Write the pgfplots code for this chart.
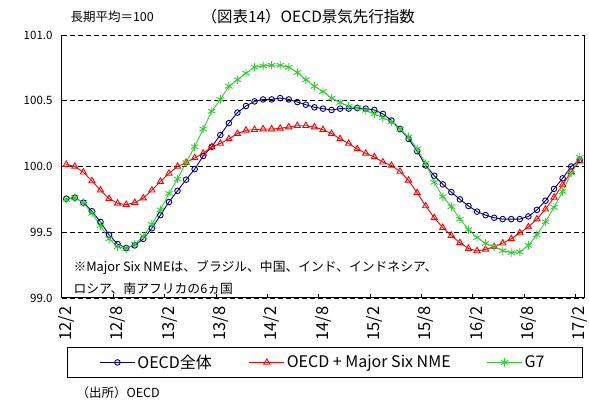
\documentclass[border=0pt]{standalone}
\usepackage{fontspec}
\setmainfont{Noto Sans CJK JP}
\usepackage{pgfplots}
\usepackage{pgfplotstable}
\pgfplotsset{compat=1.18}
\definecolor{cblue}{RGB}{0,0,128}
\definecolor{cred}{RGB}{255,0,0}
\definecolor{cgreen}{RGB}{51,204,51}

\pgfplotstableread{
i blue red green
0 99.755 100.015 99.75
1 99.763 100.00 99.763
2 99.725 99.957 99.725
3 99.66 99.89 99.644
4 99.578 99.82 99.55
5 99.48 99.755 99.45
6 99.41 99.72 99.39
7 99.38 99.71 99.375
8 99.40 99.725 99.41
9 99.45 99.76 99.47
10 99.53 99.82 99.56
11 99.63 99.885 99.67
12 99.73 99.947 99.795
13 99.815 100.0 99.905
14 99.90 100.03 100.03
15 99.98 100.066 100.15
16 100.08 100.10 100.285
17 100.15 100.15 100.42
18 100.24 100.175 100.51
19 100.33 100.21 100.61
20 100.41 100.25 100.66
21 100.46 100.275 100.71
22 100.495 100.28 100.755
23 100.51 100.285 100.765
24 100.51 100.285 100.77
25 100.52 100.29 100.77
26 100.51 100.30 100.755
27 100.49 100.31 100.715
28 100.47 100.31 100.66
29 100.45 100.30 100.61
30 100.44 100.28 100.57
31 100.43 100.25 100.52
32 100.44 100.21 100.487
33 100.44 100.175 100.457
34 100.445 100.134 100.445
35 100.44 100.10 100.427
36 100.43 100.073 100.40
37 100.40 100.033 100.37
38 100.35 100.008 100.34
39 100.285 99.962 100.283
40 100.21 99.895 100.225
41 100.116 99.80 100.134
42 100.008 99.70 100.023
43 99.93 99.61 99.88
44 99.864 99.535 99.77
45 99.805 99.475 99.695
46 99.75 99.42 99.60
47 99.70 99.376 99.52
48 99.657 99.358 99.46
49 99.63 99.37 99.415
50 99.61 99.39 99.39
51 99.60 99.417 99.36
52 99.60 99.45 99.345
53 99.60 99.495 99.35
54 99.62 99.54 99.40
55 99.67 99.60 99.48
56 99.74 99.675 99.58
57 99.83 99.765 99.69
58 99.91 99.86 99.81
59 100.0 99.96 99.95
60 100.05 100.04 100.07
}\data

\begin{document}
\begin{tikzpicture}[x=1pt,y=1pt]
\useasboundingbox (-62,-106) rectangle (527,298);
\begin{axis}[
  at={(0,0)}, anchor=south west,
  scale only axis, width=522pt, height=263pt,
  xmin=-0.5, xmax=60.5, ymin=99, ymax=101,
  axis line style={draw=none},
  ytick={99,99.5,100,100.5,101},
  /pgf/number format/fixed,
  /pgf/number format/fixed zerofill,
  /pgf/number format/precision=1,
  /pgf/number format/assume math mode=true,
  yticklabel style={font=\fontsize{11.5}{11.5}\selectfont, anchor=east, xshift=-6pt},
  ymajorgrids,
  grid style={black, line width=0.8pt, dash pattern=on 5pt off 3pt},
  ytick style={draw=none},
  xtick={0,6,...,60},
  xticklabels={12/2,12/8,13/2,13/8,14/2,14/8,15/2,15/8,16/2,16/8,17/2},
  xticklabel style={rotate=90, anchor=east, font=\fontsize{16.5}{16.5}\selectfont, xshift=-5pt},
  xtick style={draw=none},
  extra x ticks={5.5,11.5,...,59.5},
  extra x tick labels={},
  extra x tick style={xtick style={draw=black, line width=0.8pt}, major tick length=4pt, tick align=inside, xtick pos=left},
  legend columns=3,
  legend style={at={(axis description cs:0.5,-0.245)}, anchor=center, draw=none, fill=none,
    font=\fontsize{16}{16}\selectfont,
    /tikz/column 2/.style={column sep=35pt},
    /tikz/column 4/.style={column sep=34pt}},
  legend image code/.code={\draw[mark repeat=2,mark phase=2] plot coordinates {(0pt,0pt) (17.5pt,0pt) (35pt,0pt)};},
  clip=false,
]
\addplot[cblue, line width=0.9pt, mark=o, mark size=2.8pt, mark options={fill=white, line width=0.9pt}] table[x=i,y=blue] {\data};
\addlegendentry{OECD全体}
\addplot[cred, line width=0.9pt, mark=triangle, mark size=3.6pt, mark options={fill=white, line width=0.9pt}] table[x=i,y=red] {\data};
\addlegendentry{OECD + Major Six NME}
\addplot[cgreen, line width=0.9pt, mark=asterisk, mark size=4.2pt, mark options={line width=0.9pt}] table[x=i,y=green] {\data};
\addlegendentry{G7}
\draw[black, line width=1pt] (rel axis cs:0,1) -- (rel axis cs:0,0) -- (rel axis cs:1,0) -- (rel axis cs:1,1);
\end{axis}
\draw[black, line width=1pt] (6,-50) rectangle (520,-79);
\node[anchor=west, font=\fontsize{12.5}{12.5}\selectfont] at (5,281) {長期平均＝100};
\node[anchor=west, font=\fontsize{15.5}{15.5}\selectfont] at (136,281) {（図表14）OECD景気先行指数};
\node[anchor=west, font=\fontsize{12.8}{12.8}\selectfont] at (8,30) {※Major Six NMEは、ブラジル、中国、インド、インドネシア、};
\node[anchor=west, font=\fontsize{12.8}{12.8}\selectfont] at (8,9) {ロシア、南アフリカの6ヵ国};
\node[anchor=west, font=\fontsize{12.5}{12.5}\selectfont] at (11,-95) {（出所）OECD};
\end{tikzpicture}
\end{document}
